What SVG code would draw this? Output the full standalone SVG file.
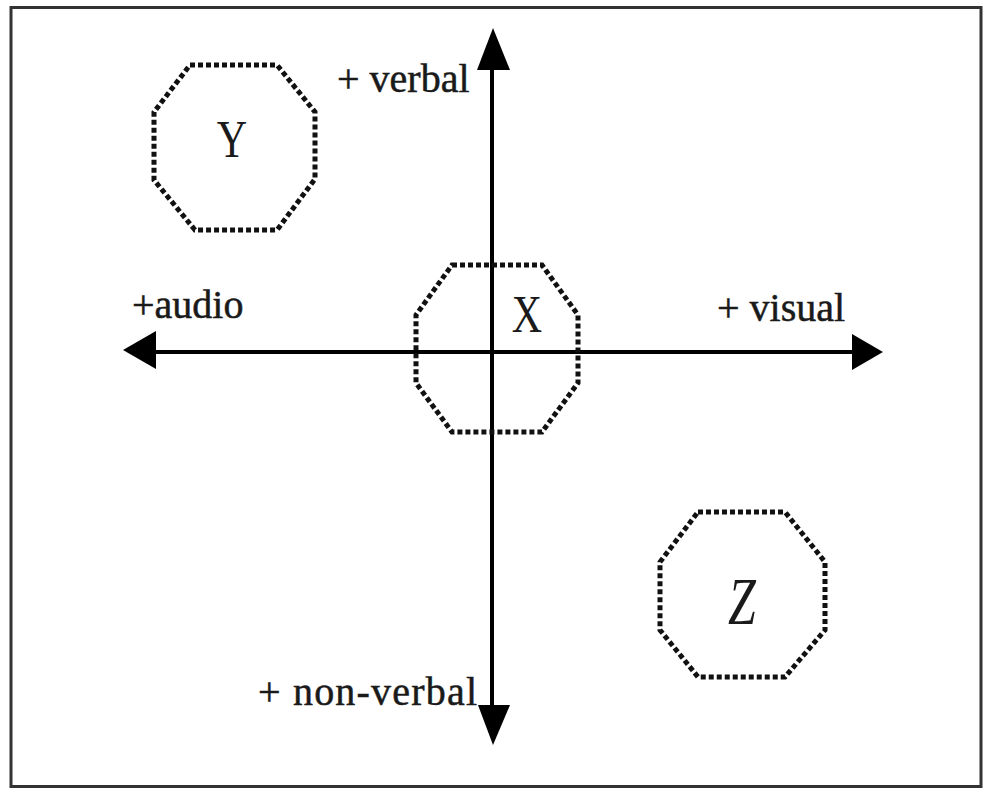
<svg xmlns="http://www.w3.org/2000/svg" width="984" height="789" viewBox="0 0 984 789">
<style>
.oct{fill:none;stroke:#111;stroke-width:5;stroke-dasharray:5 3}
.ax{stroke:#000;stroke-width:4;fill:none}
.lbl{font-family:"Liberation Serif","Times New Roman",serif;font-size:40px;fill:#1a1a1a;stroke:#1a1a1a;stroke-width:0.5}
.big{font-family:"Liberation Serif","Times New Roman",serif;font-size:42px;fill:#1a1a1a;text-anchor:middle}
</style>
<rect x="0" y="0" width="984" height="789" fill="#fff"/>
<rect x="11" y="7.5" width="970" height="779" fill="none" stroke="#333" stroke-width="3"/>
<g id="connectors">
<line class="ax" x1="492" y1="60" x2="492" y2="712"/>
<polygon points="493,28 477,70 510,70" fill="#000"/>
<polygon points="493,745 478,705 510,705" fill="#000"/>
<line class="ax" x1="150" y1="352" x2="858" y2="352"/>
<polygon points="123,350 156,331 156,369" fill="#000"/>
<polygon points="883,352 852,334 852,370" fill="#000"/>
</g>
<g id="label-verbal"><text class="lbl" x="337" y="92">+ verbal</text></g>
<g id="label-audio"><text class="lbl" x="132" y="318">+audio</text></g>
<g id="label-visual"><text class="lbl" x="717" y="321">+ visual</text></g>
<g id="label-nonverbal"><text class="lbl" x="258" y="705" textLength="219">+ non-verbal</text></g>
<g id="node-Y">
<polygon class="oct" points="190,65 277,65 315,112 315,179 277,230 195,230 154,180 154,112"/>
<text class="big" transform="translate(232,157) scale(1,1.25)">Y</text>
</g>
<g id="node-X">
<polygon class="oct" points="452,265 542,265 578,315 578,383 542,432 452,432 416,383 416,315"/>
<text class="big" transform="translate(527,332) scale(1,1.25)">X</text>
</g>
<g id="node-Z">
<polygon class="oct" points="698,512 785,512 825,562 825,630 785,677 698,677 660,630 660,562"/>
<text class="big" transform="translate(742,624) scale(1,1.35)" style="font-size:50px;font-style:italic">Z</text>
</g>
</svg>
